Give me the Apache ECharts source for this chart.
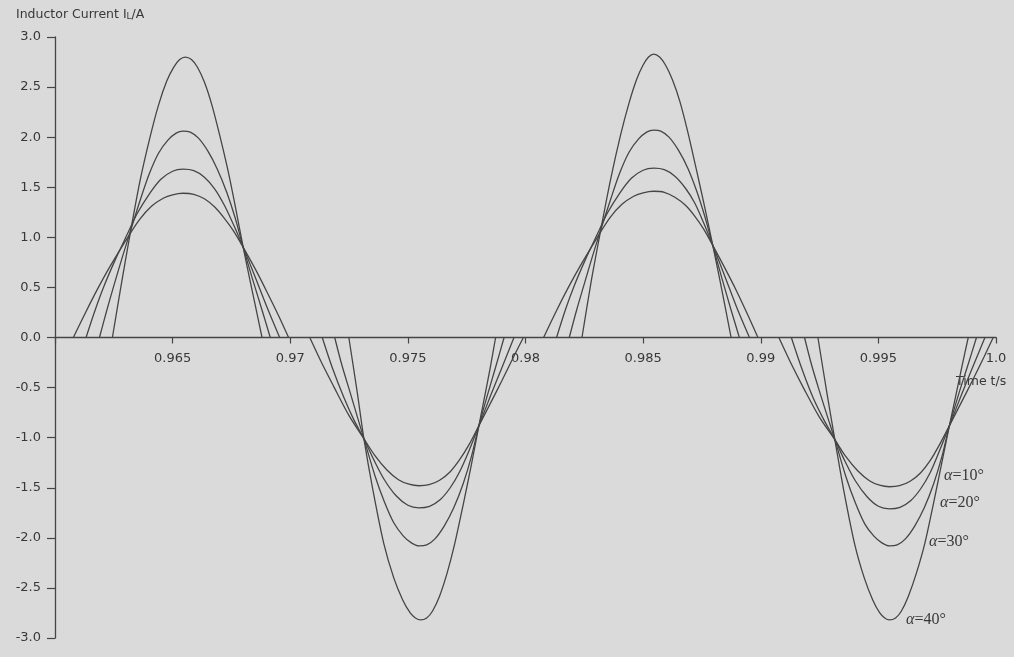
<!DOCTYPE html>
<html>
<head>
<meta charset="utf-8">
<script src="https://cdn.jsdelivr.net/npm/echarts@6/dist/echarts.min.js"></script>
<style>
html,body{margin:0;padding:0;background:#dadada;}
#c{width:1014px;height:657px;}
</style>
</head>
<body>
<div id="c"></div>
<script>
// ---- data (time in s, current in A) ----
const seriesNames = ['α=10°', 'α=20°', 'α=30°', 'α=40°'];
const yTicks = [-3, -2.5, -2, -1.5, -1, -0.5, 0, 0.5, 1, 1.5, 2, 2.5, 3];
const xTickLabels = ['', '0.965', '0.97', '0.975', '0.98', '0.985', '0.99', '0.995', '1.0'];

// alpha = 10°
const a10_p1 = [[0.96078,0],[0.96130,0.25],[0.96180,0.48],[0.96234,0.71],[0.96312,1.01],[0.96360,1.18],[0.96410,1.31],[0.96460,1.39],[0.96500,1.425],[0.96544,1.44],[0.96590,1.43],[0.96635,1.385],[0.96680,1.30],[0.96720,1.19],[0.96760,1.06],[0.96800,0.90],[0.96850,0.69],[0.96900,0.46],[0.96950,0.22],[0.96993,0]];
const a10_n1 = [[0.97083,0],[0.97135,-0.26],[0.97185,-0.49],[0.97250,-0.78],[0.97313,-1.01],[0.97360,-1.18],[0.97410,-1.32],[0.97460,-1.42],[0.97505,-1.465],[0.97547,-1.48],[0.97590,-1.47],[0.97635,-1.425],[0.97680,-1.34],[0.97720,-1.22],[0.97760,-1.07],[0.97802,-0.88],[0.97850,-0.66],[0.97900,-0.43],[0.97950,-0.19],[0.97991,0]];
const a10_p2 = [[0.98077,0],[0.98130,0.26],[0.98180,0.49],[0.98234,0.72],[0.98313,1.03],[0.98360,1.20],[0.98410,1.33],[0.98460,1.41],[0.98500,1.445],[0.98545,1.46],[0.98590,1.45],[0.98635,1.40],[0.98680,1.32],[0.98720,1.21],[0.98758,1.08],[0.98796,0.92],[0.98846,0.70],[0.98896,0.47],[0.98946,0.22],[0.98988,0]];
const a10_n2 = [[0.99077,0],[0.99131,-0.27],[0.99181,-0.50],[0.99248,-0.79],[0.99315,-1.02],[0.99362,-1.19],[0.99412,-1.33],[0.99462,-1.43],[0.99505,-1.475],[0.99547,-1.49],[0.99590,-1.48],[0.99635,-1.435],[0.99680,-1.35],[0.99720,-1.23],[0.99760,-1.07],[0.99802,-0.88],[0.99850,-0.66],[0.99900,-0.43],[0.99950,-0.19],[0.99988,0]];

// alpha = 20°
const a20_p1 = [[0.96132,0],[0.96170,0.27],[0.96206,0.50],[0.96255,0.77],[0.96305,1.02],[0.96350,1.24],[0.96400,1.43],[0.96450,1.58],[0.96500,1.66],[0.96544,1.68],[0.96590,1.665],[0.96635,1.60],[0.96680,1.48],[0.96720,1.32],[0.96760,1.12],[0.96800,0.90],[0.96850,0.61],[0.96900,0.31],[0.96955,0]];
const a20_n1 = [[0.97136,0],[0.97180,-0.31],[0.97228,-0.60],[0.97270,-0.82],[0.97313,-1.01],[0.97355,-1.22],[0.97400,-1.42],[0.97450,-1.58],[0.97500,-1.675],[0.97547,-1.70],[0.97592,-1.685],[0.97637,-1.62],[0.97680,-1.50],[0.97720,-1.34],[0.97760,-1.13],[0.97802,-0.88],[0.97850,-0.59],[0.97900,-0.30],[0.97951,0]];
const a20_p2 = [[0.98132,0],[0.98170,0.28],[0.98206,0.51],[0.98255,0.78],[0.98305,1.03],[0.98350,1.25],[0.98400,1.44],[0.98450,1.59],[0.98500,1.67],[0.98545,1.69],[0.98590,1.675],[0.98635,1.61],[0.98680,1.49],[0.98720,1.34],[0.98758,1.14],[0.98796,0.92],[0.98846,0.62],[0.98898,0.30],[0.98952,0]];
const a20_n2 = [[0.99130,0],[0.99176,-0.32],[0.99224,-0.61],[0.99270,-0.83],[0.99315,-1.02],[0.99357,-1.23],[0.99402,-1.43],[0.99452,-1.59],[0.99500,-1.685],[0.99547,-1.71],[0.99592,-1.695],[0.99637,-1.63],[0.99680,-1.51],[0.99720,-1.35],[0.99760,-1.13],[0.99802,-0.88],[0.99852,-0.58],[0.99902,-0.29],[0.99953,0]];

// alpha = 30°
const a30_p1 = [[0.96189,0],[0.96220,0.27],[0.96248,0.50],[0.96282,0.77],[0.96315,1.02],[0.96362,1.37],[0.96400,1.63],[0.96440,1.84],[0.96480,1.97],[0.96515,2.04],[0.96544,2.06],[0.96575,2.05],[0.96610,1.99],[0.96650,1.86],[0.96690,1.68],[0.96730,1.45],[0.96765,1.20],[0.96800,0.90],[0.96840,0.58],[0.96878,0.29],[0.96915,0]];
const a30_n1 = [[0.97189,0],[0.97220,-0.28],[0.97256,-0.56],[0.97285,-0.79],[0.97313,-1.01],[0.97360,-1.38],[0.97400,-1.64],[0.97440,-1.85],[0.97480,-1.98],[0.97515,-2.05],[0.97547,-2.08],[0.97580,-2.07],[0.97615,-2.01],[0.97655,-1.88],[0.97695,-1.70],[0.97735,-1.46],[0.97770,-1.19],[0.97802,-0.88],[0.97840,-0.56],[0.97875,-0.28],[0.97909,0]];
const a30_p2 = [[0.98186,0],[0.98218,0.28],[0.98248,0.52],[0.98282,0.79],[0.98315,1.04],[0.98362,1.38],[0.98400,1.64],[0.98440,1.85],[0.98480,1.98],[0.98515,2.05],[0.98545,2.07],[0.98575,2.06],[0.98610,2.00],[0.98650,1.87],[0.98690,1.69],[0.98728,1.46],[0.98762,1.21],[0.98796,0.92],[0.98835,0.59],[0.98872,0.29],[0.98909,0]];
const a30_n2 = [[0.99186,0],[0.99218,-0.29],[0.99254,-0.57],[0.99285,-0.80],[0.99315,-1.02],[0.99362,-1.39],[0.99402,-1.65],[0.99442,-1.86],[0.99480,-1.98],[0.99515,-2.05],[0.99547,-2.08],[0.99580,-2.07],[0.99615,-2.01],[0.99655,-1.88],[0.99695,-1.70],[0.99735,-1.46],[0.99770,-1.19],[0.99802,-0.88],[0.99842,-0.56],[0.99880,-0.28],[0.99917,0]];

// alpha = 40°
const a40_p1 = [[0.96244,0],[0.96284,0.56],[0.96319,1.03],[0.96362,1.57],[0.96404,2.00],[0.96440,2.32],[0.96475,2.56],[0.96505,2.70],[0.96530,2.775],[0.96554,2.80],[0.96580,2.775],[0.96605,2.70],[0.96635,2.55],[0.96667,2.32],[0.96700,2.02],[0.96735,1.67],[0.96768,1.29],[0.96800,0.90],[0.96828,0.58],[0.96855,0.28],[0.96880,0]];
const a40_n1 = [[0.97249,0],[0.97285,-0.55],[0.97313,-1.01],[0.97352,-1.53],[0.97398,-2.06],[0.97440,-2.40],[0.97478,-2.62],[0.97510,-2.75],[0.97532,-2.80],[0.97554,-2.82],[0.97580,-2.80],[0.97605,-2.73],[0.97635,-2.58],[0.97667,-2.35],[0.97700,-2.05],[0.97735,-1.67],[0.97770,-1.27],[0.97802,-0.88],[0.97828,-0.57],[0.97851,-0.29],[0.97873,0]];
const a40_p2 = [[0.98240,0],[0.98280,0.57],[0.98318,1.05],[0.98362,1.58],[0.98404,2.02],[0.98440,2.34],[0.98473,2.58],[0.98500,2.72],[0.98523,2.80],[0.98545,2.83],[0.98570,2.80],[0.98595,2.72],[0.98625,2.57],[0.98657,2.35],[0.98690,2.05],[0.98725,1.69],[0.98762,1.30],[0.98796,0.92],[0.98824,0.60],[0.98850,0.29],[0.98874,0]];
const a40_n2 = [[0.99243,0],[0.99281,-0.55],[0.99315,-1.02],[0.99354,-1.54],[0.99400,-2.07],[0.99440,-2.40],[0.99476,-2.62],[0.99506,-2.75],[0.99527,-2.80],[0.99547,-2.82],[0.99573,-2.80],[0.99598,-2.73],[0.99628,-2.58],[0.99662,-2.35],[0.99698,-2.05],[0.99733,-1.67],[0.99768,-1.27],[0.99802,-0.88],[0.99830,-0.57],[0.99856,-0.28],[0.99882,0]];

// ---- build series (pulses separated by a break; the zero stretches lie on the x axis) ----
function joinPulses(pulses) {
  const out = [];
  pulses.forEach(function (p, i) {
    if (i > 0) {
      const prev = pulses[i - 1];
      out.push([(prev[prev.length - 1][0] + p[0][0]) / 2, null]);
    }
    p.forEach(function (q) { out.push(q); });
  });
  return out;
}
const curves = [
  joinPulses([a10_p1, a10_n1, a10_p2, a10_n2]),
  joinPulses([a20_p1, a20_n1, a20_p2, a20_n2]),
  joinPulses([a30_p1, a30_n1, a30_p2, a30_n2]),
  joinPulses([a40_p1, a40_n1, a40_p2, a40_n2])
];

const ink = '#454545';
const txt = '#383838';
const sans = 'DejaVu Sans';
const gridTop = 37, gridBottom = 19, H = 657;
const plotH = H - gridTop - gridBottom;

const labelRich = {
  a: {fontFamily: 'Liberation Serif', fontStyle: 'italic', fontSize: 16, fill: txt},
  b: {fontFamily: 'Liberation Serif', fontSize: 16, fill: txt}
};

const chart = echarts.init(document.getElementById('c'), null, {renderer: 'canvas'});
chart.setOption({
  backgroundColor: '#dadada',
  animation: false,
  grid: {left: 55, right: 18, top: gridTop, bottom: gridBottom, containLabel: false},
  xAxis: {
    type: 'value',
    position: 'bottom',
    min: 0.96, max: 1.0, interval: 0.005,
    offset: -plotH / 2,
    axisLine: {onZero: false, lineStyle: {color: ink, width: 1.3}},
    axisTick: {show: true, length: 6, inside: false, lineStyle: {color: ink, width: 1.2}},
    splitLine: {show: false},
    axisLabel: {
      margin: 15,
      color: txt,
      fontFamily: sans,
      fontSize: 13,
      showMinLabel: true, showMaxLabel: true,
      formatter: function (v) {
        const idx = Math.round((v - 0.96) / 0.005);
        return xTickLabels[idx] !== undefined ? xTickLabels[idx] : '';
      }
    }
  },
  yAxis: {
    type: 'value',
    min: yTicks[0], max: yTicks[yTicks.length - 1], interval: 0.5,
    axisLine: {onZero: false, lineStyle: {color: ink, width: 1.3}},
    axisTick: {show: true, length: 8, inside: false, lineStyle: {color: ink, width: 1.2}},
    splitLine: {show: false},
    axisLabel: {
      margin: 14,
      color: txt,
      fontFamily: sans,
      fontSize: 13,
      formatter: function (v) { return v.toFixed(1); }
    }
  },
  series: curves.map(function (d, i) {
    return {
      name: seriesNames[i],
      type: 'line',
      data: d,
      smooth: 0.3,
      connectNulls: false,
      showSymbol: false,
      symbol: 'none',
      lineStyle: {color: ink, width: 1.3},
      z: 3
    };
  }),
  graphic: [
    {type: 'text', left: 16, top: 8, style: {
      text: '{n|Inductor Current I}{s|L}{n|/A}',
      rich: {
        n: {fontFamily: sans, fontSize: 12.5, fill: txt},
        s: {fontFamily: sans, fontSize: 9, fill: txt, padding: [5, 0, 0, 0]}
      }
    }},
    {type: 'text', left: 956, top: 375, style: {text: 'Time t/s', fontFamily: sans, fontSize: 12.5, fill: txt}},
    {type: 'text', left: 944, top: 468, style: {text: '{a|α}{b|=10°}', rich: labelRich}},
    {type: 'text', left: 940, top: 495, style: {text: '{a|α}{b|=20°}', rich: labelRich}},
    {type: 'text', left: 929, top: 534, style: {text: '{a|α}{b|=30°}', rich: labelRich}},
    {type: 'text', left: 906, top: 612, style: {text: '{a|α}{b|=40°}', rich: labelRich}}
  ]
});
</script>
</body>
</html>
